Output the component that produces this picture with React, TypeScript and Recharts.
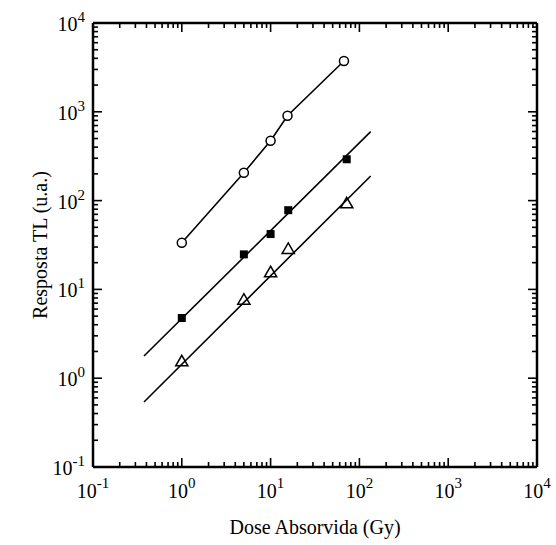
import { ScatterChart, Scatter, XAxis, YAxis, ReferenceLine } from 'recharts';

// Dose (Gy) and TL response (u.a.) for the three samples
const circleDose = [1, 5, 10, 15.5, 67];
const circleResp = [33.6, 206, 473, 904, 3730];
const squareDose = [1, 5, 10, 15.8, 72];
const squareResp = [4.76, 24.8, 42, 78, 292];
const triangleDose = [1, 5, 10, 15.8, 72];
const triangleResp = [1.51, 7.46, 15.2, 27.8, 90.9];

// fitted straight lines (end points)
const squareFitDose = [0.375, 134];
const squareFitResp = [1.78, 597];
const triangleFitDose = [0.375, 134];
const triangleFitResp = [0.54, 189];

const decades = [-1, 0, 1, 2, 3, 4];
const minorSteps = [1, 2, 3, 4, 5, 6, 7, 8, 9];

const logTicks = decades.flatMap((e) =>
  e < 4 ? minorSteps.map((m) => m * Math.pow(10, e)) : [Math.pow(10, e)]
);

const toPoints = (xs: number[], ys: number[]) => xs.map((x, i) => ({ x, y: ys[i] }));

const circles = toPoints(circleDose, circleResp);
const squares = toPoints(squareDose, squareResp);
const triangles = toPoints(triangleDose, triangleResp);
const squareFit = toPoints(squareFitDose, squareFitResp);
const triangleFit = toPoints(triangleFitDose, triangleFitResp);

const FONT = '"Liberation Serif", "Times New Roman", serif';

// chart layout
const W = 556;
const H = 545;
const LEFT_W = 93;
const RIGHT_W = 19;
const TOP_M = 13;
const TOP_H = 10;
const BOTTOM_H = 78;
const PLOT_W = W - LEFT_W - RIGHT_W;
const PLOT_H = H - TOP_M - TOP_H - BOTTOM_H;

function tickInfo(v: number) {
  const exp = Math.round(Math.log10(v));
  const major = Math.abs(Math.log10(v) - exp) < 1e-6;
  return { exp, major, len: major ? 9 : 5 };
}

// bottom ticks also draw the mirrored ticks on the top edge
function BottomTick(props: any) {
  const { x, y, payload } = props;
  const { exp, major, len } = tickInfo(payload.value);
  const top = y - PLOT_H;
  return (
    <g>
      <line x1={x} x2={x} y1={y} y2={y - len} stroke="#000" strokeWidth={1.6} />
      <line x1={x} x2={x} y1={top} y2={top + len} stroke="#000" strokeWidth={1.6} />
      {major && (
        <text x={x} y={y + 31} textAnchor="middle" fontFamily={FONT} fontSize={20} fill="#000">
          10
          <tspan dy={-10} fontSize={15}>{exp}</tspan>
        </text>
      )}
    </g>
  );
}

// left ticks also draw the mirrored ticks on the right edge
function LeftTick(props: any) {
  const { x, y, payload } = props;
  const { exp, major, len } = tickInfo(payload.value);
  const right = x + PLOT_W;
  return (
    <g>
      <line x1={x} x2={x + len} y1={y} y2={y} stroke="#000" strokeWidth={1.6} />
      <line x1={right} x2={right - len} y1={y} y2={y} stroke="#000" strokeWidth={1.6} />
      {major && (
        <text x={x - 8} y={y + 8} textAnchor="end" fontFamily={FONT} fontSize={20} fill="#000">
          10
          <tspan dy={-9} fontSize={15}>{exp}</tspan>
        </text>
      )}
    </g>
  );
}

export default function App() {
  const axisCommon = {
    type: 'number' as const,
    scale: 'log' as const,
    domain: [0.1, 10000],
    allowDataOverflow: true,
    ticks: logTicks,
    interval: 0 as const,
    tickLine: false,
    tickSize: 0,
    tickMargin: 0,
    axisLine: { stroke: '#000', strokeWidth: 2.5 },
  };

  return (
    <div style={{ position: 'absolute', left: 0, top: 0, width: W, height: H }}>
      <ScatterChart width={W} height={H} margin={{ top: TOP_M, right: 0, bottom: 0, left: 0 }}>
        <XAxis {...axisCommon} dataKey="x" height={BOTTOM_H} tick={(p: any) => <BottomTick {...p} />} />
        <XAxis {...axisCommon} xAxisId="top" orientation="top" height={TOP_H} tick={false} />
        <YAxis {...axisCommon} dataKey="y" width={LEFT_W} tick={(p: any) => <LeftTick {...p} />} />
        <YAxis {...axisCommon} yAxisId="right" orientation="right" width={RIGHT_W} tick={false} />

        <ReferenceLine segment={squareFit} stroke="#000" strokeWidth={1.6} ifOverflow="visible" />
        <ReferenceLine segment={triangleFit} stroke="#000" strokeWidth={1.6} ifOverflow="visible" />

        <Scatter
          data={circles}
          shape="circle"
          fill="#fff"
          stroke="#000"
          strokeWidth={1.5}
          line={{ stroke: '#000', strokeWidth: 1.6 }}
          isAnimationActive={false}
        />
        <Scatter data={squares} shape="square" fill="#000" isAnimationActive={false} />
        <Scatter
          data={triangles}
          shape="triangle"
          fill="none"
          stroke="#000"
          strokeWidth={1.5}
          isAnimationActive={false}
        />
      </ScatterChart>

      {/* axis titles */}
      <div
        style={{
          position: 'absolute',
          left: LEFT_W,
          width: PLOT_W,
          top: 516,
          textAlign: 'center',
          fontFamily: FONT,
          fontSize: 20,
          lineHeight: '23px',
          color: '#000',
          whiteSpace: 'nowrap',
        }}
      >
        Dose Absorvida (Gy)
      </div>
      <div
        style={{
          position: 'absolute',
          left: 40,
          top: TOP_M + TOP_H + PLOT_H / 2,
          transform: 'translate(-50%, -50%) rotate(-90deg)',
          fontFamily: FONT,
          fontSize: 20,
          lineHeight: '23px',
          color: '#000',
          whiteSpace: 'nowrap',
        }}
      >
        Resposta TL (u.a.)
      </div>
    </div>
  );
}
